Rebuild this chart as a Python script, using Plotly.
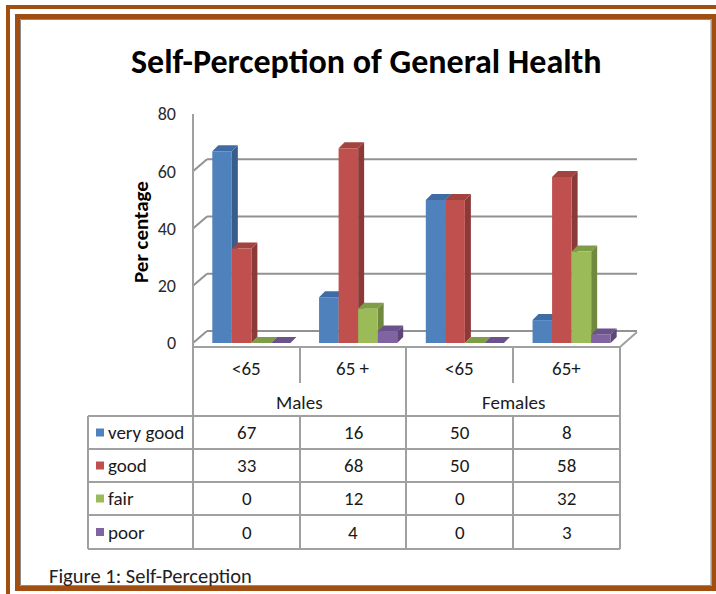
import plotly.graph_objects as go

# ---- data ----
subcats = ["<65", "65 +", "<65", "65+"]
groups = ["Males", "Females"]
series_names = ["very good", "good", "fair", "poor"]
very_good = [67, 16, 50, 8]
good = [33, 68, 50, 58]
fair = [0, 12, 0, 32]
poor = [0, 4, 0, 3]
y_ticks = [0, 20, 40, 60, 80]

series_vals = [very_good, good, fair, poor]
front_cols = ["#4F81BD", "#C0504D", "#9BBB59", "#8064A2"]
side_cols = ["#385D8A", "#8C3A38", "#71893F", "#5C4776"]
top_cols = ["#3F6CA4", "#A24340", "#7F9C47", "#6A528C"]

W, H = 716, 594
FONT = "Carlito, Calibri, Lato, sans-serif"

def px(x):
    return x / W

def py(y):
    return 1 - y / H

X0, X1 = 193, 620
Y0, Y80 = 343, 114
xunit = (X1 - X0) / 4.0
yunit = (Y0 - Y80) / 80.0
delta = 5 / xunit
bar_w = 0.183
bar_dx = 6 / xunit
bar_dy = 6 / yunit
wall_dx = 14
wall_dy = 12 / yunit

xs = list(range(len(subcats)))

fig = go.Figure()
for i, (name, vals) in enumerate(zip(series_names, series_vals)):
    fig.add_trace(go.Bar(
        x=xs, y=vals, name=name, width=bar_w, offset=-2 * bar_w + i * bar_w,
        marker=dict(color=front_cols[i], line=dict(width=0)),
        showlegend=False, hoverinfo="skip",
    ))

shapes = []
grid_col = "#929292"
for v in y_ticks:
    shapes.append(dict(type="line", xref="paper", yref="y", x0=px(X0 + wall_dx), x1=px(X1 + 17),
                       y0=v + wall_dy, y1=v + wall_dy, line=dict(color=grid_col, width=2), layer="below"))
    shapes.append(dict(type="line", xref="paper", yref="y", x0=px(X0), x1=px(X0 + wall_dx),
                       y0=v, y1=v + wall_dy, line=dict(color=grid_col, width=2), layer="below"))

for c in xs:
    for i in range(4):
        v = series_vals[i][c]
        left = c - 2 * bar_w + i * bar_w
        right = left + bar_w
        side = f"M{right},0 L{right},{v} L{right + bar_dx},{v + bar_dy} L{right + bar_dx},{bar_dy} Z"
        top = f"M{left},{v} L{right},{v} L{right + bar_dx},{v + bar_dy} L{left + bar_dx},{v + bar_dy} Z"
        shapes.append(dict(type="path", xref="x", yref="y", path=side, fillcolor=side_cols[i],
                           line=dict(width=0), layer="below"))
        shapes.append(dict(type="path", xref="x", yref="y", path=top, fillcolor=top_cols[i],
                           line=dict(width=0), layer="below"))

tcol = "#A0A0A0"
def hline(x0, x1, y):
    shapes.append(dict(type="line", xref="paper", yref="paper", x0=px(x0), x1=px(x1), y0=py(y), y1=py(y),
                       line=dict(color=tcol, width=2)))

def vline(x, y0, y1):
    shapes.append(dict(type="line", xref="paper", yref="paper", x0=px(x), x1=px(x), y0=py(y0), y1=py(y1),
                       line=dict(color=tcol, width=2)))

shapes.append(dict(type="line", xref="paper", yref="paper", x0=px(X1), x1=px(X1 + 17), y0=py(347), y1=py(332),
                   line=dict(color=tcol, width=2)))
vline(X0, 114, 549)

cols = [193, 300, 406, 513, 620]
rows = [416, 449, 482, 515, 549]
hline(193, 620, 347)
for r in rows:
    hline(88, 620, r)
vline(88, 416, 549)
for cx in cols[1:]:
    if cx in (300, 513):
        vline(cx, 347, 383)
        vline(cx, 416, 549)
    else:
        vline(cx, 347, 549)

annotations = []
txt_col = "#1a1a1a"
TS = 19

def note(x, y, text, size, color=txt_col, xanchor="center", **kw):
    annotations.append(dict(x=px(x), y=py(y), xref="paper", yref="paper", text=text, showarrow=False,
                            xanchor=xanchor, yanchor="middle",
                            font=dict(size=size, color=color, family=FONT), **kw))

for j, lab in enumerate(subcats):
    note((cols[j] + cols[j + 1]) / 2, 368, lab, TS)
for g, lab in enumerate(groups):
    note((cols[2 * g] + cols[2 * g + 2]) / 2, 402, lab, TS)
for i, name in enumerate(series_names):
    yc = (rows[i] + rows[i + 1]) / 2
    shapes.append(dict(type="rect", xref="paper", yref="paper", x0=px(96), x1=px(104), y0=py(yc - 4), y1=py(yc + 4),
                       fillcolor=front_cols[i], line=dict(width=0)))
    note(106, yc, name, TS, xanchor="left")
    for j in range(4):
        note((cols[j] + cols[j + 1]) / 2, yc, str(series_vals[i][j]), TS)

note(366, 61, "<b>Self-Perception of General Health</b>", 34, color="#000000")
note(141, 232, "<b>Per centage</b>", 21, color="#000000", textangle=-90)
note(47, 576, "Figure 1: Self-Perception", 20.5, color="#222222", xanchor="left")

brown = "#A04F10"
shapes.append(dict(type="rect", xref="paper", yref="paper", x0=px(8), x1=px(740), y0=py(7), y1=py(640),
                   line=dict(color=brown, width=4), fillcolor="rgba(0,0,0,0)"))
shapes.append(dict(type="rect", xref="paper", yref="paper", x0=px(17.5), x1=px(714), y0=py(16.5), y1=py(588.5),
                   line=dict(color=brown, width=5), fillcolor="rgba(0,0,0,0)"))
shapes.append(dict(type="rect", xref="paper", yref="paper", x0=px(20.5), x1=px(711), y0=py(19.5), y1=py(585.5),
                   line=dict(color="#8C8C8C", width=1), fillcolor="rgba(0,0,0,0)"))

fig.update_layout(
    width=W, height=H, margin=dict(l=0, r=0, t=0, b=0, autoexpand=False),
    paper_bgcolor="white", plot_bgcolor="rgba(0,0,0,0)",
    barmode="overlay",
    xaxis=dict(domain=[px(X0), px(X1)], range=[-0.5 - delta, 3.5 - delta], showticklabels=False,
               showgrid=False, zeroline=False, showline=False, fixedrange=True, automargin=False),
    yaxis=dict(domain=[py(Y0), py(Y80)], range=[0, 80], tickvals=y_ticks, showgrid=False, zeroline=False,
               showline=False, ticks="", ticklabelstandoff=16, automargin=False, fixedrange=True,
               tickfont=dict(size=18, color="#2a2a2a", family=FONT)),
    shapes=shapes, annotations=annotations,
    showlegend=False,
)

fig.write_html("out.html", config={"displayModeBar": False},
               post_script="document.body.style.margin='0';document.body.style.overflow='hidden';")
